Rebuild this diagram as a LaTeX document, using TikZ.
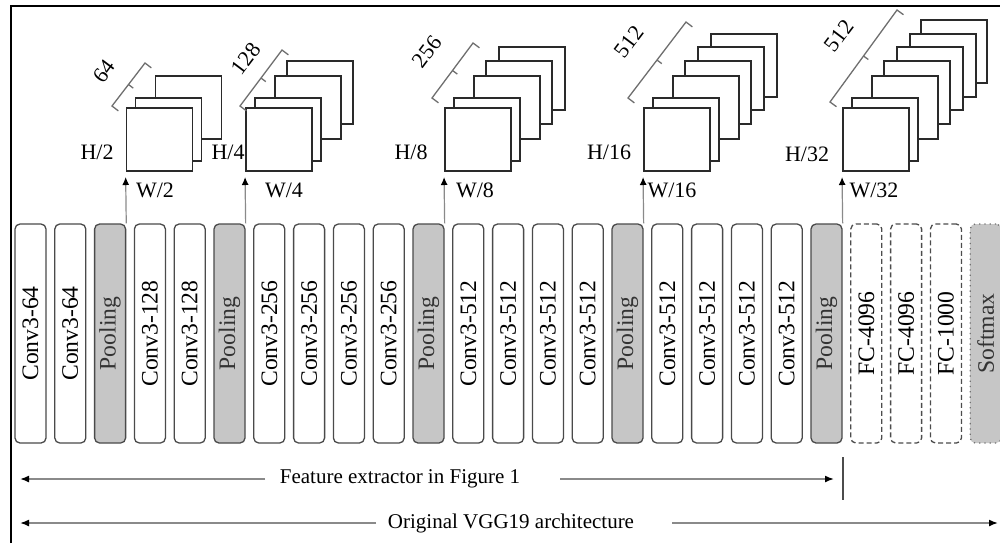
\documentclass[tikz,border=0pt]{standalone}
\usepackage{fontspec}
\setmainfont{Liberation Serif}
\usetikzlibrary{arrows.meta,calc}
\definecolor{boxline}{HTML}{4A4A4A}
\definecolor{poolfill}{HTML}{C6C6C6}
\definecolor{arrgray}{HTML}{8A8A8A}
\definecolor{bracegray}{HTML}{6E6E6E}
\definecolor{mapline}{HTML}{2A2A2A}
\tikzset{
  basebox/.style={draw=boxline, line width=0.65pt, rounded corners=2.5pt, minimum width=15.5pt, minimum height=109.5pt, inner sep=0pt, font=\fontsize{11.8}{13}\selectfont},
  convbox/.style={basebox, fill=white},
  poolbox/.style={basebox, fill=poolfill, text=black!80},
  fcbox/.style={basebox, dashed, dash pattern=on 2.5pt off 1.5pt, draw=black!70, fill=white},
  softbox/.style={basebox, dotted, draw=black!55, fill=poolfill, text=black!80},
  fmap/.style={draw=mapline, line width=0.85pt, fill=white, minimum width=33pt, minimum height=31.5pt, inner sep=0pt, anchor=south west},
  uparr/.style={draw=arrgray, line width=0.6pt, -{Latex[length=4pt,width=3.5pt,color=black]}, shorten >=2.5pt},
  barr/.style={draw=arrgray, line width=0.8pt, -{Latex[length=4.5pt,width=3.5pt,color=black]}},
  lbl/.style={font=\fontsize{11}{13}\selectfont, inner sep=0pt},
  blbl/.style={font=\fontsize{10.5}{12}\selectfont, inner sep=0pt},
  bracestyle/.style={draw=bracegray, line width=0.65pt},
}
\begin{document}
\begin{tikzpicture}[x=0.5pt,y=-0.5pt]
\useasboundingbox (0,0) rectangle (1000,543);
% frame
\draw[line width=1pt] (11,543) -- (11,6) -- (1000,6);
% layer boxes
\foreach \s/\t [count=\i from 0] in {convbox/Conv3-64, convbox/Conv3-64, poolbox/Pooling, convbox/Conv3-128, convbox/Conv3-128, poolbox/Pooling, convbox/Conv3-256, convbox/Conv3-256, convbox/Conv3-256, convbox/Conv3-256, poolbox/Pooling, convbox/Conv3-512, convbox/Conv3-512, convbox/Conv3-512, convbox/Conv3-512, poolbox/Pooling, convbox/Conv3-512, convbox/Conv3-512, convbox/Conv3-512, convbox/Conv3-512, poolbox/Pooling, fcbox/FC-4096, fcbox/FC-4096, fcbox/FC-1000, softbox/Softmax}
{
  \node[\s] (b\i) at ({30.5+39.8*\i},333.5) {\rotatebox{90}{\t}};
}
% feature map stacks
\def\dxlist{{0,9,29,41,54,67,78}}
\def\dylist{{0,10,32,47,61,74,88}}
\foreach \g/\p/\n in {1/2/2, 2/5/3, 3/10/4, 4/15/5, 5/20/6}
{
  \pgfmathsetmacro{\X}{15+39.8*\p+31}
  \foreach \k in {\n,...,1}
  {
    \pgfmathsetmacro{\dx}{\dxlist[\k]}
    \pgfmathsetmacro{\dy}{\dylist[\k]}
    \node[fmap] (f\g k\k) at ({\X+\dx},{172-\dy}) {};
  }
  \node[fmap] (f\g) at (\X,172) {};
  \draw[uparr] (b\p.north east) -- (f\g.south west);
}
% size labels
\node[lbl] (h1) at (97,152) {H/2};
\node[lbl] (w1) at (155,190) {W/2};
\node[lbl] (h2) at (228,152) {H/4};
\node[lbl] (w2) at (284,190) {W/4};
\node[lbl] (h3) at (411,152) {H/8};
\node[lbl] (w3) at (475,190) {W/8};
\node[lbl] (h4) at (609,152) {H/16};
\node[lbl] (w4) at (672,190) {W/16};
\node[lbl] (h5) at (807,154) {H/32};
\node[lbl] (w5) at (874,190) {W/32};
% braces
\foreach \g/\lx/\ly/\ux/\uy/\tx/\ty/\t in {1/112/106/145/63/104/71/64, 2/240/106/282/50/246/59/128, 3/432/98/473/43/427/52/256, 4/628/98/686/22/629/42/512, 5/830/102/897/10/839/36/512}
{
  \coordinate (L\g) at (\lx,\ly);
  \coordinate (U\g) at (\ux,\uy);
  \coordinate (M\g) at ($(L\g)!0.5!(U\g)$);
  \draw[bracestyle] ($(L\g)!4pt!-90:(U\g)$) -- (L\g) -- (U\g) -- ($(U\g)!4pt!90:(L\g)$);
  \draw[bracestyle] (M\g) -- ($(M\g)!3pt!-90:(U\g)$);
  \node[lbl, rotate=53] (n\g) at (\tx,\ty) {\t};
}
% bottom spans
\node[blbl] (feat) at (400,479) {Feature extractor in Figure 1};
\coordinate (fLe) at (265,479);
\coordinate (fL) at (20,479);
\coordinate (fRs) at (560,479);
\coordinate (fR) at (834,479);
\draw[barr] (fLe) -- (fL);
\draw[barr] (fRs) -- (fR);
\coordinate (sepT) at (843,457);
\coordinate (sepB) at (843,500);
\draw[draw=black!70, line width=0.6pt] (sepT) -- (sepB);
\node[blbl] (orig) at (511,523) {Original VGG19 architecture};
\coordinate (oLe) at (376,523);
\coordinate (oL) at (20,523);
\coordinate (oRs) at (672,523);
\coordinate (oR) at (998,523);
\draw[barr] (oLe) -- (oL);
\draw[barr] (oRs) -- (oR);
\end{tikzpicture}
\end{document}
